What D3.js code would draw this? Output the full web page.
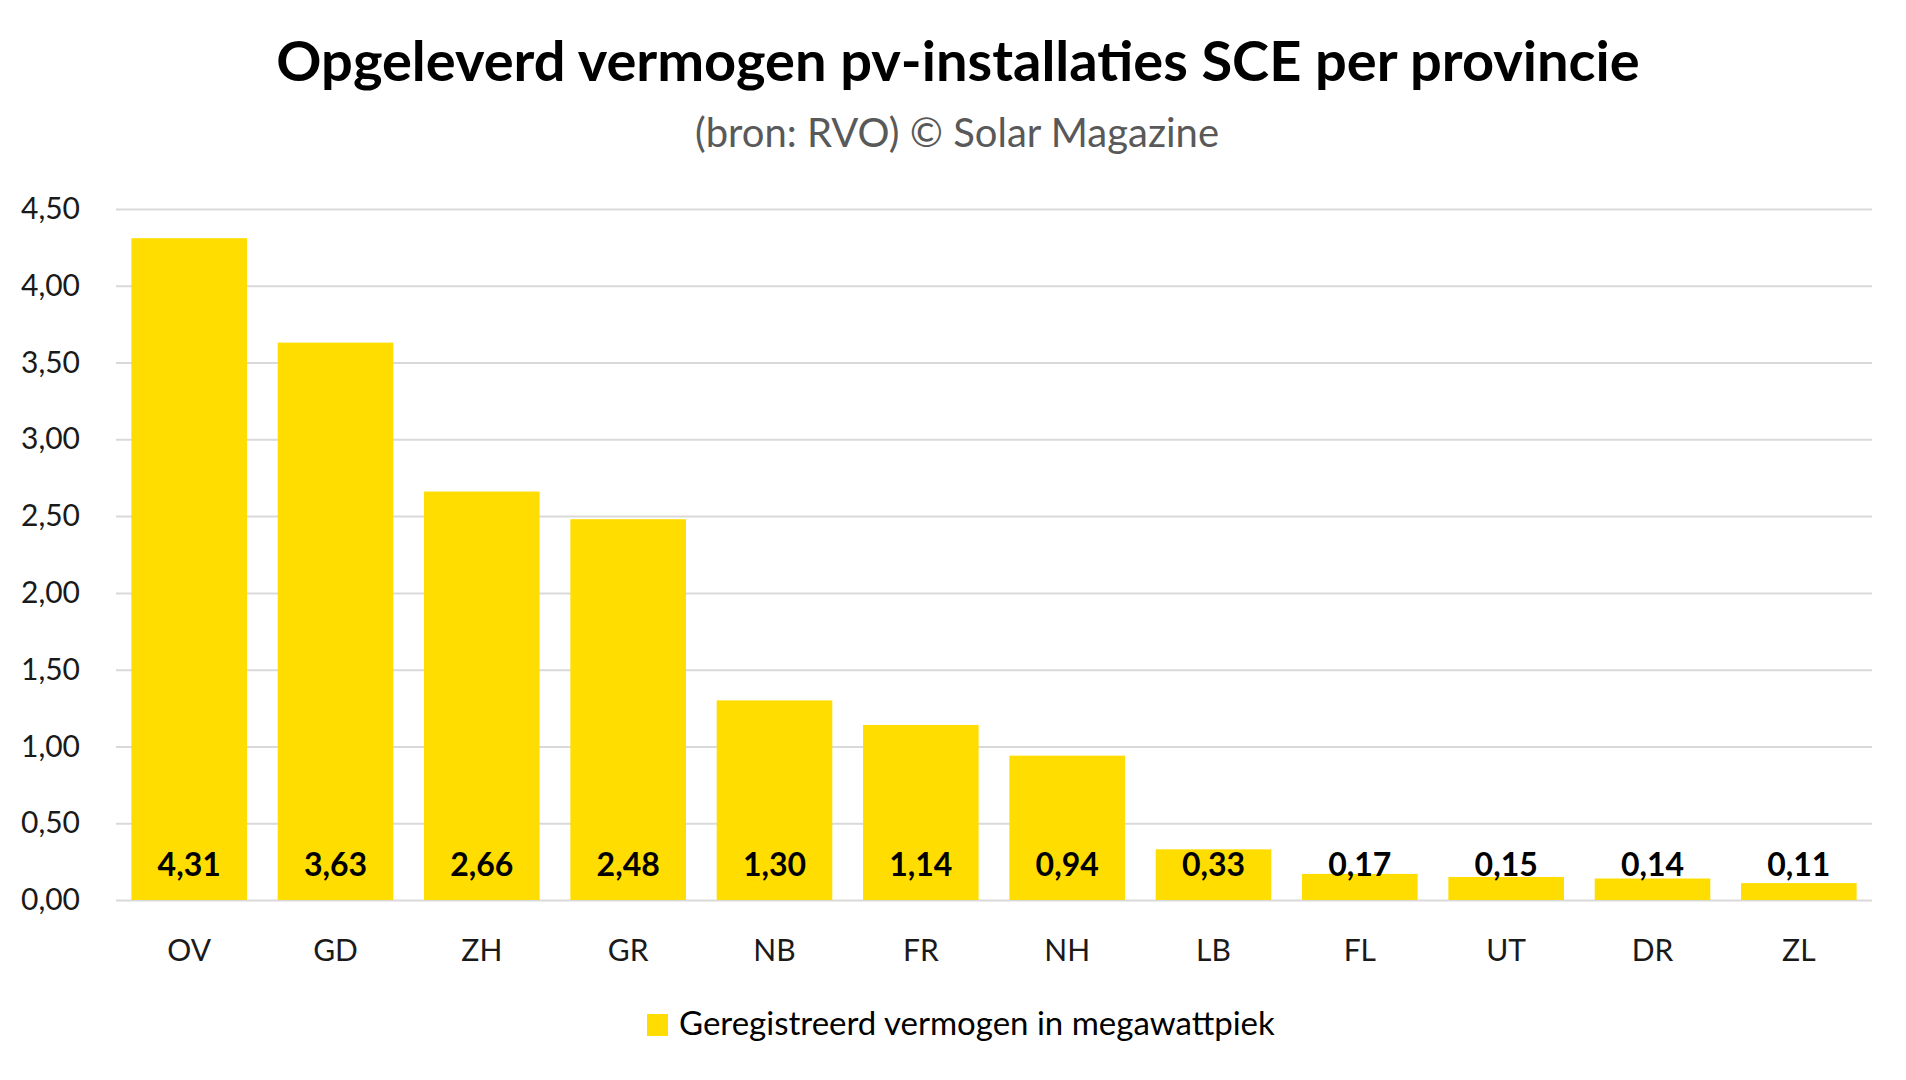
<!DOCTYPE html>
<html>
  <head>
    <meta charset="utf-8">
    <title>Opgeleverd vermogen pv-installaties SCE per provincie</title>
    <style>
    body {
        margin: 0px;
        overflow: hidden;
        background: #ffffff;
    }

    text {
        font-family: Lato, "Noto Sans", sans-serif;
    }

    .tick text {
        font-size: 30px;
        fill: #1a1a1a;
    }

    .tick line {
        stroke: #d9d9d9;
        stroke-width: 2;
    }
    </style>
    <script src="https://d3js.org/d3.v7.min.js"></script>
  </head>
  <body>

    <svg width="1906" height="1080"></svg>

    <script>
        // provinces and registered power (MWp)
        const provinces = ['OV', 'GD', 'ZH', 'GR', 'NB', 'FR', 'NH', 'LB', 'FL', 'UT', 'DR', 'ZL'];
        const values = [4.31, 3.63, 2.66, 2.48, 1.30, 1.14, 0.94, 0.33, 0.17, 0.15, 0.14, 0.11];
        const yTicks = [0, 0.5, 1, 1.5, 2, 2.5, 3, 3.5, 4, 4.5];

        const titleText = 'Opgeleverd vermogen pv-installaties SCE per provincie';
        const subtitleText = '(bron: RVO) © Solar Magazine';
        const legendText = 'Geregistreerd vermogen in megawattpiek';

        const data = provinces.map((p, i) => ({ name: p, value: values[i] }));

        const svg = d3.select('svg');
        const width = +svg.attr('width');
        const height = +svg.attr('height');

        // dutch number format: comma as decimal separator
        const nl = d3.formatLocale({ decimal: ',', thousands: '.', grouping: [3], currency: ['€', ''] });
        const fmt = nl.format('.2f');

        //set margins
        const margin = { top: 209, right: 34, bottom: 180, left: 116 };
        const innerWidth = width - margin.left - margin.right;
        const innerHeight = height - margin.top - margin.bottom;

        const yScale = d3.scaleLinear()
            .domain([0, 4.5])
            .range([innerHeight, 0]);

        const xScale = d3.scaleBand()
            .domain(provinces)
            .range([0, innerWidth])
            .paddingInner(0.21)
            .paddingOuter(0.105);

        const g = svg.append('g')
            .attr('transform', `translate(${margin.left},${margin.top})`);

        //gridlines + y labels
        const yAxis = d3.axisLeft(yScale)
            .tickValues(yTicks)
            .tickSize(-innerWidth)
            .tickPadding(36)
            .tickFormat(fmt);

        const yAxisG = g.append('g').call(yAxis);
        yAxisG.select('.domain').remove();

        //bars
        g.selectAll('rect.bar').data(data)
            .enter().append('rect')
                .attr('class', 'bar')
                .attr('x', d => xScale(d.name))
                .attr('y', d => yScale(d.value))
                .attr('width', xScale.bandwidth())
                .attr('height', d => innerHeight - yScale(d.value))
                .attr('fill', '#FFDD00');

        //value labels near the base of each bar
        g.selectAll('text.val').data(data)
            .enter().append('text')
                .attr('class', 'val')
                .attr('x', d => xScale(d.name) + xScale.bandwidth() / 2)
                .attr('y', yScale(0) - 24)
                .attr('text-anchor', 'middle')
                .attr('font-size', '32px')
                .attr('font-weight', 'bold')
                .attr('fill', '#000')
                .text(d => fmt(d.value));

        //x axis labels
        const xAxis = d3.axisBottom(xScale).tickSize(0).tickPadding(40);
        const xAxisG = g.append('g')
            .attr('transform', `translate(0,${innerHeight})`)
            .call(xAxis);
        xAxisG.select('.domain').remove();
        xAxisG.selectAll('.tick text').attr('fill', '#595959');

        //title
        svg.append('text')
            .text(titleText)
            .attr('x', 958)
            .attr('y', 81)
            .attr('text-anchor', 'middle')
            .attr('font-size', '56px')
            .attr('font-weight', 'bold')
            .attr('fill', '#000');

        svg.append('text')
            .text(subtitleText)
            .attr('x', 957)
            .attr('y', 147)
            .attr('text-anchor', 'middle')
            .attr('font-size', '40px')
            .attr('fill', '#595959');

        //legend
        const legend = svg.append('g').attr('transform', 'translate(647,1014)');
        legend.append('rect')
            .attr('width', 21)
            .attr('height', 22)
            .attr('fill', '#FFDD00');
        legend.append('text')
            .text(legendText)
            .attr('x', 32)
            .attr('y', 21)
            .attr('font-size', '33px')
            .attr('fill', '#000');
    </script>
  </body>
</html>
